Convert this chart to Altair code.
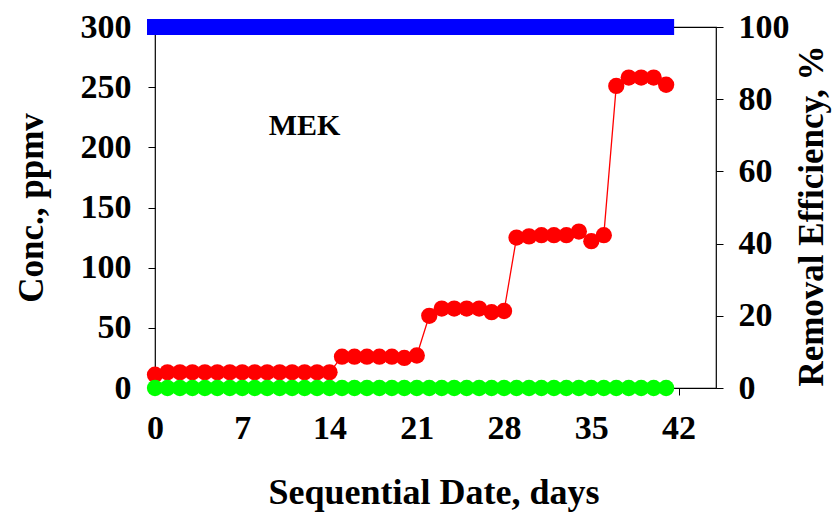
import altair as alt
import pandas as pd

# Sequential sampling days
days = list(range(42))

# MEK inlet concentration, ppmv
inlet_ppmv = [11, 13, 13, 13, 13, 13, 13, 13, 13, 13, 13, 13, 13, 13, 13,
              26, 26, 26, 26, 26, 25, 27,
              60, 66, 66, 66, 66, 63, 64,
              125, 126, 127, 127, 127, 130, 122, 127,
              251, 258, 258, 258, 252]

# MEK outlet concentration, ppmv
outlet_ppmv = [0] * 42

# Removal efficiency, %
removal_pct = [100] * 42

x_ticks = [0, 7, 14, 21, 28, 35, 42]
left_ticks = [0, 50, 100, 150, 200, 250, 300]
right_ticks = [0, 20, 40, 60, 80, 100]

df = pd.DataFrame({
    "day": days,
    "inlet": inlet_ppmv,
    "outlet": outlet_ppmv,
    "removal": removal_pct,
})

FONT = "Liberation Serif"
W, H = 561, 361

x_enc = alt.X(
    "day:Q",
    scale=alt.Scale(domain=[0, 45], nice=False, zero=False),
    axis=alt.Axis(
        values=x_ticks, title="Sequential Date, days", grid=False,
        domain=False, tickColor="black", tickSize=7, labelPadding=16,
        labelFont=FONT, labelFontSize=34, labelFontWeight="bold", labelColor="black",
        titleFont=FONT, titleFontSize=36, titleFontWeight="bold", titleColor="black",
        titleX=W / 2 - 2, titleY=87, labelFlush=False,
    ),
)

conc_scale = alt.Scale(domain=[0, 300], nice=False)
conc_axis = alt.Axis(
    values=left_ticks, title="Conc., ppmv", grid=False, domain=False,
    tickColor="black", tickSize=7, labelPadding=17,
    labelFont=FONT, labelFontSize=34, labelFontWeight="bold", labelColor="black",
    titleFont=FONT, titleFontSize=35, titleFontWeight="bold", titleColor="black",
    titleX=-106, titleY=H / 2, labelFlush=False,
)

base = alt.Chart(df)

inlet_line = base.mark_line(color="#ff0000", strokeWidth=1.3).encode(
    x=x_enc, y=alt.Y("inlet:Q", scale=conc_scale, axis=conc_axis)
)
inlet_pts = base.mark_circle(color="#ff0000", size=265, opacity=1).encode(
    x=x_enc, y=alt.Y("inlet:Q", scale=conc_scale, axis=conc_axis)
)
outlet_pts = base.mark_circle(color="#00ff00", size=265, opacity=1).encode(
    x=x_enc, y=alt.Y("outlet:Q", scale=conc_scale, axis=conc_axis)
)
label = alt.Chart(pd.DataFrame({"t": ["MEK"]})).mark_text(
    font=FONT, fontSize=30, fontWeight="bold", color="black"
).encode(
    x=alt.datum(12.0, type="quantitative"),
    y=alt.datum(218, type="quantitative"),
    text="t:N",
)

left = alt.layer(inlet_line, inlet_pts, outlet_pts, label)

removal_pts = base.mark_square(color="#0000ff", size=256, opacity=1).encode(
    x=x_enc,
    y=alt.Y(
        "removal:Q",
        scale=alt.Scale(domain=[0, 100], nice=False),
        axis=alt.Axis(
            orient="right", values=right_ticks, title="Removal Efficiency, %",
            grid=False, domain=False, tickColor="black", tickSize=7, labelPadding=15,
            labelFont=FONT, labelFontSize=34, labelFontWeight="bold", labelColor="black",
            titleFont=FONT, titleFontSize=35, titleFontWeight="bold", titleColor="black",
            titleAngle=270, titleBaseline="top", titleX=78, titleY=H / 2 + 8,
            labelFlush=False,
        ),
    ),
)

chart = (
    alt.layer(left, removal_pts)
    .resolve_scale(y="independent")
    .properties(
        width=W, height=H,
        autosize=alt.AutoSizeParams(type="none"),
        padding={"left": 155, "top": 27, "right": 833 - 155 - W, "bottom": 514 - 27 - H},
        background="white",
    )
    .configure_view(stroke="black", strokeWidth=1.2)
)

chart.save("out.html", embed_options={"renderer": "svg", "actions": False})
